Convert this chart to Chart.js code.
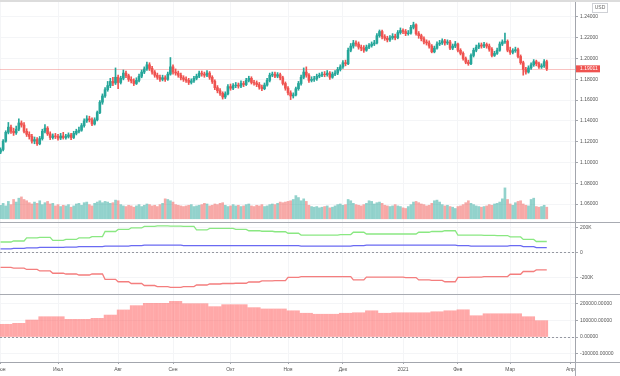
<!DOCTYPE html>
<html>
<head>
<meta charset="utf-8">
<script src="https://cdn.jsdelivr.net/npm/chart.js@4.4.1/dist/chart.umd.min.js"></script>
<style>
  html, body { margin: 0; padding: 0; background: #fff; }
  .pane { position: relative; width: 620px; }
  canvas { display: block; }
</style>
</head>
<body>
<div class="pane" style="height:222px"><canvas id="price"></canvas></div>
<div class="pane" style="height:72px"><canvas id="cot"></canvas></div>
<div class="pane" style="height:82px"><canvas id="net"></canvas></div>
<script>
// daily bars, 1 Jun 2020 .. 19 Mar 2021 (index = trading day)
const monthTicks = [0, 22, 45, 66, 88, 110, 131, 154, 175, 195, 218];
const monthLabels = ["Июн", "Июл", "Авг", "Сен", "Окт", "Ноя", "Дек", "2021", "Фев", "Мар", "Апр"];

const priceTicks = [1.06, 1.08, 1.10, 1.12, 1.14, 1.16, 1.18, 1.20, 1.22, 1.24];
const cotTicks = [-200000, 0, 200000];
const netTicks = [-100000, 0, 100000, 200000];

const opens = [
  1.1100,1.1125,1.1205,1.1290,1.1340,1.1300,1.1285,1.1320,1.1380,1.1360,
  1.1300,1.1270,1.1250,1.1205,1.1220,1.1180,1.1230,1.1300,1.1330,1.1275,
  1.1240,1.1255,1.1250,1.1235,1.1255,1.1240,1.1250,1.1265,1.1240,1.1280,
  1.1300,1.1310,1.1355,1.1400,1.1420,1.1410,1.1370,1.1410,1.1480,1.1580,
  1.1640,1.1700,1.1740,1.1780,1.1765,1.1820,1.1770,1.1810,1.1860,1.1835,
  1.1800,1.1785,1.1760,1.1790,1.1830,1.1870,1.1900,1.1940,1.1905,1.1870,
  1.1840,1.1820,1.1800,1.1815,1.1800,1.1850,1.1920,1.1870,1.1860,1.1840,
  1.1815,1.1800,1.1790,1.1770,1.1785,1.1810,1.1830,1.1860,1.1850,1.1840,
  1.1860,1.1820,1.1780,1.1720,1.1690,1.1665,1.1630,1.1660,1.1730,1.1715,
  1.1740,1.1745,1.1735,1.1760,1.1750,1.1790,1.1810,1.1770,1.1765,1.1750,
  1.1725,1.1710,1.1745,1.1790,1.1840,1.1850,1.1830,1.1845,1.1815,1.1760,
  1.1715,1.1670,1.1640,1.1650,1.1710,1.1760,1.1820,1.1870,1.1840,1.1790,
  1.1800,1.1805,1.1830,1.1840,1.1850,1.1845,1.1860,1.1820,1.1850,1.1860,
  1.1895,1.1920,1.1960,1.1950,1.2080,1.2120,1.2150,1.2140,1.2110,1.2100,
  1.2080,1.2110,1.2125,1.2140,1.2150,1.2220,1.2260,1.2210,1.2195,1.2180,
  1.2200,1.2215,1.2200,1.2250,1.2270,1.2260,1.2240,1.2245,1.2300,1.2325,
  1.2240,1.2220,1.2190,1.2160,1.2150,1.2120,1.2065,1.2100,1.2140,1.2150,
  1.2170,1.2150,1.2160,1.2100,1.2120,1.2140,1.2080,1.2050,1.2000,1.1965,
  1.1950,1.2030,1.2080,1.2110,1.2130,1.2120,1.2135,1.2120,1.2090,1.2030,
  1.2050,1.2080,1.2140,1.2160,1.2165,1.2080,1.2060,1.2075,1.2085,1.2020,
  1.1960,1.1895,1.1870,1.1910,1.1940,1.1970,1.1950,1.1920,1.1930,1.1970
];
const highs = [
  1.1140,1.1220,1.1305,1.1385,1.1360,1.1330,1.1350,1.1420,1.1400,1.1385,
  1.1325,1.1295,1.1270,1.1245,1.1240,1.1250,1.1320,1.1365,1.1345,1.1295,
  1.1275,1.1280,1.1270,1.1280,1.1290,1.1270,1.1285,1.1280,1.1300,1.1320,
  1.1340,1.1375,1.1420,1.1450,1.1445,1.1430,1.1430,1.1495,1.1595,1.1660,
  1.1720,1.1780,1.1810,1.1820,1.1910,1.1840,1.1830,1.1890,1.1880,1.1850,
  1.1825,1.1805,1.1815,1.1850,1.1890,1.1920,1.1965,1.1960,1.1925,1.1885,
  1.1860,1.1840,1.1840,1.1835,1.1870,1.2010,1.1940,1.1900,1.1880,1.1860,
  1.1835,1.1825,1.1810,1.1805,1.1830,1.1850,1.1880,1.1880,1.1870,1.1885,
  1.1875,1.1835,1.1795,1.1740,1.1710,1.1680,1.1680,1.1750,1.1755,1.1760,
  1.1770,1.1765,1.1785,1.1780,1.1810,1.1830,1.1825,1.1790,1.1785,1.1770,
  1.1745,1.1765,1.1810,1.1860,1.1870,1.1870,1.1865,1.1860,1.1830,1.1775,
  1.1730,1.1690,1.1670,1.1725,1.1780,1.1840,1.1910,1.1920,1.1855,1.1825,
  1.1830,1.1850,1.1860,1.1870,1.1875,1.1885,1.1875,1.1870,1.1885,1.1915,
  1.1940,1.1980,1.1985,1.2100,1.2145,1.2175,1.2170,1.2160,1.2130,1.2125,
  1.2130,1.2145,1.2160,1.2175,1.2240,1.2275,1.2275,1.2230,1.2215,1.2220,
  1.2240,1.2235,1.2270,1.2295,1.2285,1.2280,1.2270,1.2320,1.2350,1.2335,
  1.2260,1.2235,1.2210,1.2180,1.2170,1.2135,1.2120,1.2160,1.2175,1.2190,
  1.2185,1.2180,1.2175,1.2140,1.2165,1.2150,1.2095,1.2065,1.2015,1.1985,
  1.2045,1.2100,1.2130,1.2150,1.2150,1.2155,1.2150,1.2140,1.2105,1.2070,
  1.2100,1.2160,1.2180,1.2245,1.2180,1.2110,1.2095,1.2110,1.2100,1.2035,
  1.1975,1.1915,1.1930,1.1960,1.1990,1.1985,1.1965,1.1950,1.1990,1.1985
];
const lows = [
  1.1085,1.1110,1.1195,1.1275,1.1280,1.1260,1.1270,1.1305,1.1340,1.1285,
  1.1250,1.1225,1.1185,1.1180,1.1165,1.1170,1.1215,1.1285,1.1260,1.1220,
  1.1225,1.1230,1.1215,1.1220,1.1225,1.1225,1.1235,1.1220,1.1230,1.1265,
  1.1285,1.1300,1.1340,1.1385,1.1390,1.1355,1.1360,1.1400,1.1470,1.1560,
  1.1625,1.1685,1.1720,1.1740,1.1750,1.1710,1.1755,1.1795,1.1815,1.1780,
  1.1765,1.1740,1.1750,1.1775,1.1815,1.1855,1.1885,1.1885,1.1850,1.1820,
  1.1800,1.1780,1.1785,1.1780,1.1790,1.1840,1.1850,1.1840,1.1820,1.1795,
  1.1780,1.1770,1.1750,1.1755,1.1770,1.1795,1.1815,1.1830,1.1820,1.1825,
  1.1800,1.1760,1.1700,1.1670,1.1645,1.1610,1.1615,1.1650,1.1695,1.1700,
  1.1720,1.1715,1.1720,1.1730,1.1740,1.1775,1.1755,1.1745,1.1730,1.1705,
  1.1690,1.1700,1.1735,1.1775,1.1825,1.1815,1.1815,1.1795,1.1745,1.1695,
  1.1650,1.1605,1.1620,1.1640,1.1695,1.1745,1.1805,1.1820,1.1770,1.1775,
  1.1780,1.1790,1.1815,1.1825,1.1825,1.1830,1.1800,1.1810,1.1835,1.1845,
  1.1880,1.1905,1.1930,1.1940,1.2065,1.2100,1.2120,1.2090,1.2075,1.2060,
  1.2070,1.2095,1.2110,1.2125,1.2140,1.2205,1.2190,1.2175,1.2160,1.2165,
  1.2185,1.2180,1.2190,1.2235,1.2240,1.2220,1.2225,1.2235,1.2285,1.2225,
  1.2195,1.2170,1.2140,1.2130,1.2100,1.2055,1.2055,1.2090,1.2125,1.2135,
  1.2130,1.2135,1.2085,1.2085,1.2105,1.2065,1.2035,1.1985,1.1950,1.1935,
  1.1940,1.2015,1.2065,1.2095,1.2100,1.2105,1.2100,1.2070,1.2015,1.2020,
  1.2040,1.2070,1.2125,1.2145,1.2065,1.2040,1.2045,1.2060,1.2005,1.1945,
  1.1840,1.1850,1.1860,1.1895,1.1925,1.1930,1.1905,1.1905,1.1915,1.1885
];
const closes = [
  1.1125,1.1205,1.1290,1.1340,1.1300,1.1285,1.1320,1.1380,1.1360,1.1300,
  1.1270,1.1250,1.1205,1.1220,1.1180,1.1230,1.1300,1.1330,1.1275,1.1240,
  1.1255,1.1250,1.1235,1.1255,1.1240,1.1250,1.1265,1.1240,1.1280,1.1300,
  1.1310,1.1355,1.1400,1.1420,1.1410,1.1370,1.1410,1.1480,1.1580,1.1640,
  1.1700,1.1740,1.1780,1.1765,1.1820,1.1770,1.1810,1.1860,1.1835,1.1800,
  1.1785,1.1760,1.1790,1.1830,1.1870,1.1900,1.1940,1.1905,1.1870,1.1840,
  1.1820,1.1800,1.1815,1.1800,1.1850,1.1920,1.1870,1.1860,1.1840,1.1815,
  1.1800,1.1790,1.1770,1.1785,1.1810,1.1830,1.1860,1.1850,1.1840,1.1860,
  1.1820,1.1780,1.1720,1.1690,1.1665,1.1630,1.1660,1.1730,1.1715,1.1740,
  1.1745,1.1735,1.1760,1.1750,1.1790,1.1810,1.1770,1.1765,1.1750,1.1725,
  1.1710,1.1745,1.1790,1.1840,1.1850,1.1830,1.1845,1.1815,1.1760,1.1715,
  1.1670,1.1640,1.1650,1.1710,1.1760,1.1820,1.1870,1.1840,1.1790,1.1800,
  1.1805,1.1830,1.1840,1.1850,1.1845,1.1860,1.1820,1.1850,1.1860,1.1895,
  1.1920,1.1960,1.1950,1.2080,1.2120,1.2150,1.2140,1.2110,1.2100,1.2080,
  1.2110,1.2125,1.2140,1.2150,1.2220,1.2260,1.2210,1.2195,1.2180,1.2200,
  1.2215,1.2200,1.2250,1.2270,1.2260,1.2240,1.2245,1.2300,1.2325,1.2240,
  1.2220,1.2190,1.2160,1.2150,1.2120,1.2065,1.2100,1.2140,1.2150,1.2170,
  1.2150,1.2160,1.2100,1.2120,1.2140,1.2080,1.2050,1.2000,1.1965,1.1950,
  1.2030,1.2080,1.2110,1.2130,1.2120,1.2135,1.2120,1.2090,1.2030,1.2050,
  1.2080,1.2140,1.2160,1.2165,1.2080,1.2060,1.2075,1.2085,1.2020,1.1960,
  1.1895,1.1870,1.1910,1.1940,1.1970,1.1950,1.1920,1.1930,1.1970,1.19011
];
const volumes = [
  105,120,100,135,110,150,130,160,170,150,140,
  125,115,130,120,140,110,125,135,115,120,100,110,
  95,105,100,110,90,100,115,120,105,125,130,110,100,
  120,130,140,125,135,130,120,125,145,140,
  110,100,95,105,100,90,100,110,95,105,115,110,100,105,95,
  110,120,155,150,140,130,110,105,100,95,
  100,105,110,95,100,105,110,120,115,100,105,115,110,120,125,
  105,95,100,110,100,105,95,100,110,115,100,95,105,100,110,
  95,100,110,115,110,120,130,125,130,135,140,150,180,165,140,
  155,135,105,95,90,95,85,90,95,100,85,90,100,110,115,
  105,110,150,140,120,110,105,100,110,120,140,135,115,125,130,
  120,105,100,95,100,110,100,95,85,80,95,110,130,135,125,
  115,110,100,105,120,140,145,130,110,100,105,95,90,80,95,
  100,110,125,140,120,110,100,95,90,95,100,110,105,115,120,
  130,155,240,150,115,105,125,135,140,115,105,100,150,160,95,90,95,105,90
];

// COT report, weekly (thousands of contracts); each week covers 5 daily bars
const nonCommercial = [83,91,115,119,95,103,115,126,166,182,194,206,211,209,206,178,190,191,183,172,168,164,152,138,138,138,142,160,146,146,146,146,160,166,172,138,138,136,134,123,103,87];
const nonReportable = [28,32,36,40,40,43,47,47,51,51,55,59,59,59,55,55,55,55,55,55,55,55,55,51,51,51,51,55,59,59,59,59,59,59,59,55,51,51,51,55,47,38];
const commercial = [-117,-123,-134,-146,-164,-170,-178,-170,-212,-231,-245,-261,-269,-275,-269,-257,-249,-245,-243,-233,-225,-223,-196,-191,-191,-191,-191,-217,-194,-194,-194,-198,-217,-221,-231,-196,-194,-191,-190,-172,-150,-138];
const netWeekly = [77,83,103,123,123,107,107,113,133,164,190,204,204,216,202,202,184,196,196,178,170,170,159,144,138,138,144,147,159,144,147,147,147,153,159,165,129,141,141,141,123,99];

const FONT = "'Liberation Sans', Arial, sans-serif";
Chart.defaults.font.family = FONT;
Chart.defaults.font.size = 5;
Chart.defaults.color = "#555";

const GRID = "#f4f5f7";
const AXIS = "#a3a6ad";
const UP = "#26a69a", DOWN = "#ef5350";
const isUp = i => closes[i] >= opens[i];
const weekOf = i => Math.floor(i / 5);

function xScale(showLabels) {
  return {
    type: "linear", min: -0.2, max: 219.8, bounds: "data", offset: false,
    afterBuildTicks: s => { s.ticks = monthTicks.map(v => ({ value: v })); },
    grid: { color: GRID, offset: false, drawTicks: showLabels, tickLength: 2, tickColor: AXIS },
    border: { display: showLabels, color: AXIS },
    ticks: {
      display: showLabels, autoSkip: false, maxRotation: 0, padding: 3, color: "#555",
      callback: v => monthLabels[monthTicks.indexOf(v)]
    },
    afterFit: s => { s.height = showLabels ? 14 : 0; s.paddingLeft = 0; s.paddingRight = 0; }
  };
}

function yScale(min, max, tickValues, fmt) {
  return {
    position: "right", min, max, bounds: "data",
    afterBuildTicks: s => { s.ticks = tickValues.map(v => ({ value: v })); },
    grid: { color: GRID, tickColor: AXIS, tickLength: 3 },
    border: { color: AXIS },
    ticks: { padding: 2, color: "#555", callback: fmt },
    afterFit: s => { s.width = 45; s.paddingTop = 0; s.paddingBottom = 0; }
  };
}

const baseOptions = {
  responsive: true,
  maintainAspectRatio: false,
  animation: false,
  events: [],
  layout: { padding: 0 },
  plugins: { legend: { display: false }, tooltip: { enabled: false } }
};

// last price line, price tag and currency box
const priceDecor = {
  id: "priceDecor",
  beforeDatasetsDraw(chart) {
    const { ctx, chartArea: a, scales: { y } } = chart;
    const py = Math.round(y.getPixelForValue(closes[closes.length - 1])) + 0.5;
    ctx.save();
    ctx.strokeStyle = "rgba(239,83,80,0.35)";
    ctx.lineWidth = 1;
    ctx.beginPath();
    ctx.moveTo(a.left, py);
    ctx.lineTo(a.right, py);
    ctx.stroke();
    ctx.restore();
  },
  afterDraw(chart) {
    const { ctx, chartArea: a, scales: { y } } = chart;
    const last = closes[closes.length - 1];
    const py = y.getPixelForValue(last);
    ctx.save();
    ctx.fillStyle = "#dcdcdc";
    ctx.fillRect(0, 0, chart.width, 2);
    ctx.fillStyle = DOWN;
    ctx.fillRect(a.right + 1, py - 3.5, 24, 7);
    ctx.font = "5px " + FONT;
    ctx.textBaseline = "middle";
    ctx.textAlign = "left";
    ctx.fillStyle = "#fff";
    ctx.fillText(last.toFixed(5), a.right + 5, py);
    ctx.strokeStyle = "#cfd1d6";
    ctx.strokeRect(a.right + 17.5, 3.5, 15, 9);
    ctx.fillStyle = "#666";
    ctx.textAlign = "center";
    ctx.fillText("USD", a.right + 25, 8);
    ctx.restore();
  }
};

// dashed zero line and pane separators
const paneDecor = {
  id: "paneDecor",
  beforeDatasetsDraw(chart) {
    const { ctx, chartArea: a, scales: { y } } = chart;
    const zy = Math.round(y.getPixelForValue(0)) + 0.5;
    ctx.save();
    ctx.strokeStyle = "#9598a1";
    ctx.lineWidth = 1;
    ctx.setLineDash([2, 2]);
    ctx.beginPath();
    ctx.moveTo(a.left, zy);
    ctx.lineTo(a.right, zy);
    ctx.stroke();
    ctx.restore();
  },
  afterDraw(chart) {
    const { ctx, chartArea: a } = chart;
    ctx.save();
    ctx.strokeStyle = "#a8abb2";
    ctx.lineWidth = 1;
    ctx.beginPath();
    ctx.moveTo(0, 0.5);
    ctx.lineTo(chart.width, 0.5);
    if (chart.scales.x.options.ticks.display) {
      ctx.moveTo(a.right + 0.5, a.bottom);
      ctx.lineTo(a.right + 0.5, chart.height);
      ctx.moveTo(a.right, a.bottom + 0.5);
      ctx.lineTo(chart.width, a.bottom + 0.5);
    }
    ctx.stroke();
    ctx.restore();
  }
};

new Chart(document.getElementById("price"), {
  type: "bar",
  data: {
    datasets: [
      {
        label: "Объём",
        yAxisID: "vol",
        data: volumes.map((v, i) => ({ x: i, y: v })),
        backgroundColor: c => isUp(c.dataIndex) ? "rgba(38,166,154,0.5)" : "rgba(239,83,80,0.5)",
        barThickness: 2,
        grouped: false,
        order: 3
      },
      {
        label: "Тени",
        yAxisID: "y",
        data: lows.map((l, i) => ({ x: i, y: [l, highs[i]] })),
        backgroundColor: c => isUp(c.dataIndex) ? UP : DOWN,
        barThickness: 1,
        grouped: false,
        order: 2
      },
      {
        label: "EURUSD",
        yAxisID: "y",
        data: opens.map((o, i) => ({ x: i, y: [o, closes[i]] })),
        backgroundColor: c => isUp(c.dataIndex) ? UP : DOWN,
        barThickness: 2,
        grouped: false,
        order: 1
      }
    ]
  },
  options: {
    ...baseOptions,
    scales: {
      x: xScale(false),
      y: yScale(1.0427, 1.25636, priceTicks, v => v.toFixed(5)),
      vol: { position: "left", display: false, min: -25, max: 1700 }
    }
  },
  plugins: [priceDecor]
});

const cotLine = (label, weekly, color) => ({
  label,
  data: opens.map((_, i) => ({ x: i, y: weekly[weekOf(i)] * 1000 })),
  borderColor: color,
  borderWidth: 1.3,
  pointRadius: 0,
  tension: 0
});

new Chart(document.getElementById("cot"), {
  type: "line",
  data: {
    datasets: [
      cotLine("Non-Commercial", nonCommercial, "#8ae882"),
      cotLine("Nonreportable", nonReportable, "#6a6af2"),
      cotLine("Commercial", commercial, "#f47e7e")
    ]
  },
  options: {
    ...baseOptions,
    scales: {
      x: xScale(false),
      y: yScale(-328000, 241000, cotTicks, v => v === 0 ? "0" : (v / 1000) + "K")
    }
  },
  plugins: [paneDecor]
});

new Chart(document.getElementById("net"), {
  type: "bar",
  data: {
    datasets: [{
      label: "Net",
      data: opens.map((_, i) => ({ x: i, y: netWeekly[weekOf(i)] * 1000 })),
      backgroundColor: "rgba(255,82,82,0.5)",
      barThickness: 2,
      grouped: false
    }]
  },
  options: {
    ...baseOptions,
    scales: {
      x: xScale(true),
      y: yScale(-151500, 260600, netTicks, v => v.toFixed(5))
    }
  },
  plugins: [paneDecor]
});
</script>
</body>
</html>
